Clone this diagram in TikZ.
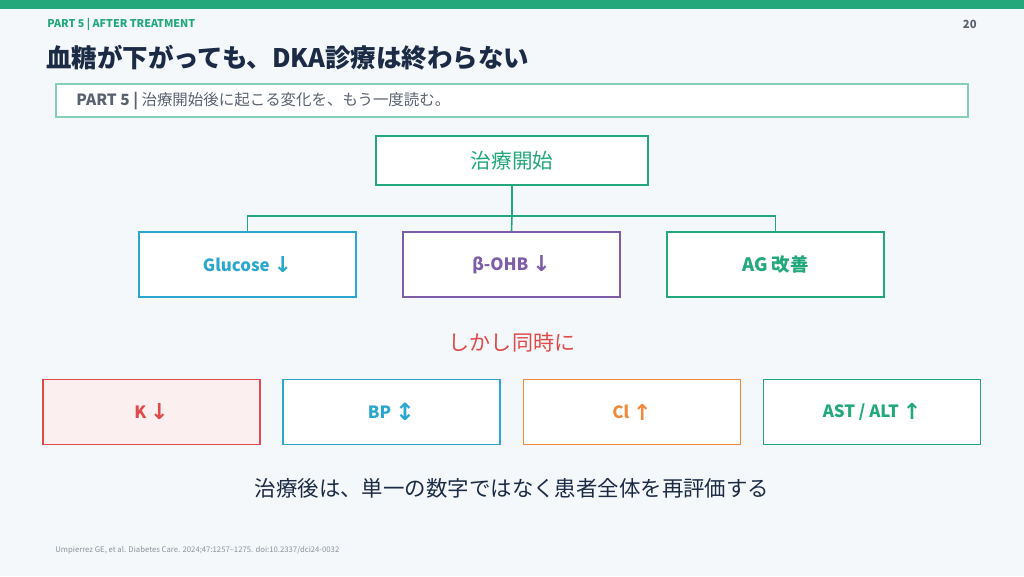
\documentclass[tikz,border=0pt]{standalone}
\usepackage{fontspec}
\setmainfont{Noto Sans CJK JP}
\newfontfamily\arrowfont{DejaVu Sans}
\usetikzlibrary{calc}
\definecolor{pagebg}{HTML}{F4F8FB}
\definecolor{teal}{HTML}{22A87A}
\definecolor{navy}{HTML}{1C2B45}
\definecolor{sky}{HTML}{2AA6CF}
\definecolor{plum}{HTML}{7D5CA8}
\definecolor{brick}{HTML}{E04A4A}
\definecolor{amber}{HTML}{EF8A3C}
\definecolor{slate}{HTML}{5A6270}
\tikzset{
  box/.style={draw=#1, line width=0.9pt, fill=white, text=#1, font=\bfseries\fontsize{9.6}{11}\selectfont,
    minimum width=4.34cm, minimum height=1.3cm, inner sep=0pt},
  conn/.style={draw=teal, line width=0.9pt}
}
\newcommand\dn{\raisebox{-0.15ex}{\arrowfont\bfseries\fontsize{12.5}{13}\selectfont ↓}}
\newcommand\up{\raisebox{-0.15ex}{\arrowfont\bfseries\fontsize{12.5}{13}\selectfont ↑}}
\newcommand\updn{\raisebox{-0.25ex}{\arrowfont\bfseries\fontsize{13.5}{14}\selectfont ↕}}

\begin{document}
\begin{tikzpicture}[x=0.02cm, y=-0.02cm]
		%%%%% FRAME %%%%%
		\fill[pagebg] (0, 0) rectangle (1024, 576);
		\useasboundingbox (0, 0) rectangle (1024, 576);
		\fill[teal] (0, 0) rectangle (1024, 9);
		
		\node[anchor=west, text=teal, font=\bfseries\fontsize{6.1}{8}\selectfont, inner sep=0pt] (part) at (47, 24) {PART 5 | AFTER TREATMENT};
		\node[anchor=east, text=slate, font=\bfseries\fontsize{6.4}{8}\selectfont, inner sep=0pt] (page) at (977, 24) {20};
		\node[anchor=west, text=navy, font=\bfseries\fontsize{14.5}{17}\selectfont, inner sep=0pt] (title) at (46, 58) {血糖が下がっても、DKA診療は終わらない};
		
		\node[draw=teal!55, line width=0.9pt, fill=white, minimum width=18.24cm, minimum height=0.66cm, inner sep=0pt] (banner) at (512, 100.5) {};
		\node[anchor=west, text=slate, font=\fontsize{8.8}{10}\selectfont, inner sep=0pt] (bannertext) at (76, 101) {\textbf{PART 5 |} 治療開始後に起こる変化を、もう一度読む。};
		
		%%%%% TREE %%%%%
		\node[box=teal, minimum width=5.44cm, minimum height=0.98cm, font=\fontsize{11.7}{13}\selectfont] (start) at (512, 160.5) {治療開始};
		\node[box=sky] (gluc) at (247.5, 264.5) {Glucose \dn};
		\node[box=plum] (ohb) at (511.5, 264.5) {β-OHB \dn};
		\node[box=teal, font=\bfseries\fontsize{10.5}{12}\selectfont] (ag) at (775.5, 264.5) {AG 改善};
		
		\coordinate (bus) at (512, 216);
		\draw[conn] (start.south) -- (bus);
		\draw[conn] (bus) -| (gluc.north);
		\draw[conn] (bus) -- (ohb.north);
		\draw[conn] (bus) -| (ag.north);
		
		\node[text=brick, font=\fontsize{12}{14}\selectfont] (but) at (512, 342) {しかし同時に};
		
		%%%%% SIDE EFFECTS %%%%%
		\node[box=brick, fill=brick!9] (k) at (151.5, 412) {K \dn};
		\node[box=sky] (bp) at (391.5, 412) {BP \updn};
		\node[box=amber] (cl) at (632, 412) {Cl \up};
		\node[box=teal] (ast) at (872, 412) {AST / ALT \up};
		
		\node[text=navy, font=\fontsize{12.2}{14}\selectfont] (msg) at (512, 488) {治療後は、単一の数字ではなく患者全体を再評価する};
		\node[anchor=west, text=slate!70, font=\fontsize{4.4}{5}\selectfont, inner sep=0pt] (cite) at (55, 550) {Umpierrez GE, et al. Diabetes Care. 2024;47:1257–1275. doi:10.2337/dci24-0032};
		%%%%% END %%%%%
	\end{tikzpicture}
\end{document}
